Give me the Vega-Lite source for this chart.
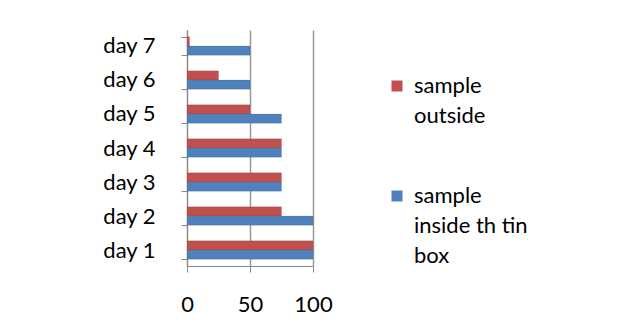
{
  "$schema": "https://vega.github.io/schema/vega-lite/v6.json",
  "width": 126,
  "height": 236,
  "autosize": {"type": "none"},
  "padding": {"left": 187, "top": 30, "right": 308, "bottom": 60},
  "background": "white",
  "config": {"view": {"stroke": null}, "font": "Lato", "style": {"guide-label": {"lineHeight": 30}}},
  "data": {
    "values": [
      {"day": "day 1", "series": "sample outside", "value": 100},
      {"day": "day 1", "series": "sample inside th tin box", "value": 100},
      {"day": "day 2", "series": "sample outside", "value": 75},
      {"day": "day 2", "series": "sample inside th tin box", "value": 100},
      {"day": "day 3", "series": "sample outside", "value": 75},
      {"day": "day 3", "series": "sample inside th tin box", "value": 75},
      {"day": "day 4", "series": "sample outside", "value": 75},
      {"day": "day 4", "series": "sample inside th tin box", "value": 75},
      {"day": "day 5", "series": "sample outside", "value": 50},
      {"day": "day 5", "series": "sample inside th tin box", "value": 75},
      {"day": "day 6", "series": "sample outside", "value": 25},
      {"day": "day 6", "series": "sample inside th tin box", "value": 50},
      {"day": "day 7", "series": "sample outside", "value": 2},
      {"day": "day 7", "series": "sample inside th tin box", "value": 50}
    ]
  },
  "mark": {"type": "bar", "stroke": "#333", "strokeOpacity": 0.25, "strokeWidth": 0.5},
  "encoding": {
    "y": {
      "field": "day",
      "type": "nominal",
      "sort": ["day 7", "day 6", "day 5", "day 4", "day 3", "day 2", "day 1"],
      "scale": {"paddingInner": 0.46, "paddingOuter": 0.2},
      "axis": {
        "title": null,
        "tickBand": "extent",
        "labelFont": "Lato",
        "labelFontSize": 22,
        "labelColor": "#000",
        "domainColor": "#888",
        "tickColor": "#888",
        "tickSize": 6,
        "labelPadding": 26
      }
    },
    "x": {
      "field": "value",
      "type": "quantitative",
      "scale": {"domain": [0, 100]},
      "axis": {
        "title": null,
        "values": [0, 50, 100],
        "grid": true,
        "gridColor": "#999",
        "gridWidth": 1.5,
        "domainColor": "#888",
        "tickColor": "#888",
        "tickSize": 6,
        "labelFont": "Lato",
        "labelFontSize": 22,
        "labelColor": "#000",
        "labelPadding": 22,
        "labelFlush": false
      }
    },
    "yOffset": {"field": "series", "sort": ["sample outside", "sample inside th tin box"]},
    "color": {
      "field": "series",
      "scale": {"domain": ["sample outside", "sample inside th tin box"], "range": ["#C0504D", "#4F81BD"]},
      "legend": {
        "orient": "none",
        "legendX": 199,
        "legendY": 45,
        "title": null,
        "symbolType": "square",
        "symbolSize": 121,
        "symbolStrokeWidth": 0,
        "labelFont": "Lato",
        "labelFontSize": 22,
        "labelColor": "#000",
        "labelOffset": 6,
        "labelLimit": 300,
        "rowPadding": 58,
        "labelExpr": "datum.label == 'sample outside' ? ['sample', 'outside'] : ['sample', 'inside th tin', 'box']"
      }
    }
  }
}
